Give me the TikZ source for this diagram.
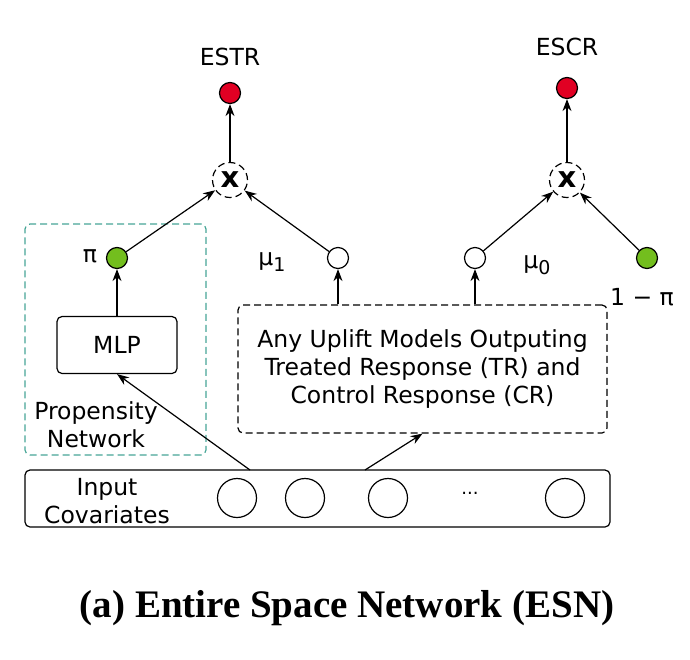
\documentclass[tikz,border=0pt]{standalone}
\usepackage{fontspec}
\newfontfamily\labelfont{DejaVu Sans}
\newfontfamily\captionfont{Liberation Serif}
\usetikzlibrary{arrows,arrows.meta,positioning}
\definecolor{estred}{RGB}{225,0,35}
\definecolor{propgreen}{RGB}{115,190,30}
\definecolor{propteal}{RGB}{70,165,150}
\newcommand{\lowsub}[1]{\raisebox{-6pt}{\fontsize{19}{19}\selectfont #1}}

\begin{document}
\begin{tikzpicture}[x=1pt,y=-1pt,line width=1.2pt,>={Stealth[length=12pt,width=9pt]},
  font=\labelfont\fontsize{23.5}{28}\selectfont,
  longdash/.style={dash pattern=on 7pt off 4pt},
  unit/.style={circle,draw,inner sep=0pt,minimum size=21pt},
  prod/.style={circle,draw,longdash,inner sep=0pt,minimum size=35pt,
    font=\labelfont\bfseries\fontsize{29}{29}\selectfont},
  feat/.style={circle,draw,inner sep=0pt,minimum size=39pt},
  box/.style={draw,rounded corners=5pt,inner sep=0pt,align=center}]
  \useasboundingbox (0,0) rectangle (690,659);
% left branch: ESTR
  \node (estrlabel) at (230,57) {ESTR};
  \node[unit,fill=estred] (estr) at (230,93) {};
  \node[prod] (xl) at (230,180) {x};
  \node[unit,fill=propgreen] (pi) at (117,258) {};
  \node (pilabel) at (90,256) {π};
  \node[unit] (mu1) at (338,258) {};
  \node (mu1label) at (272,262) {μ\lowsub{1}};
% right branch: ESCR
  \node (escrlabel) at (567,47) {ESCR};
  \node[unit,fill=estred] (escr) at (567,88) {};
  \node[prod] (xr) at (567,180) {x};
  \node[unit] (mu0) at (475,258) {};
  \node (mu0label) at (537,265) {μ\lowsub{0}};
  \node[unit,fill=propgreen] (onepi) at (647,258) {};
  \node (onepilabel) at (642,297) {1 − π};
% propensity network
  \node[box,draw=propteal,longdash,minimum width=181pt,minimum height=231pt] (prop) at (115.5,339.5) {};
  \node[box,minimum width=120pt,minimum height=57pt] (mlp) at (117,345) {MLP};
  \node[align=center] (proplabel) at (96,425) {Propensity\\Network};
% uplift models
  \node[box,longdash,minimum width=369pt,minimum height=128pt] (uplift) at (422.5,369)
    {Any Uplift Models Outputing\\Treated Response (TR) and\\Control Response (CR)};
% input covariates
  \node[box,minimum width=585pt,minimum height=57pt] (input) at (317.5,498.5) {};
  \node[align=center] (inputlabel) at (107,501) {Input\\Covariates};
  \node[feat] (f1) at (237,498) {};
  \node[feat] (f2) at (305,498) {};
  \node[feat] (f3) at (388,498) {};
  \node[font=\labelfont\fontsize{18}{20}\selectfont] (fdots) at (470,493) {...};
  \node[feat] (f4) at (565,498) {};
  \coordinate (tapmlp) at (250,470);
  \coordinate (tapup) at (365,470);
% connectors
  \draw[->] (tapmlp) -- (mlp.south);
  \draw[->] (tapup) -- (uplift.south);
  \draw[->] (mlp) -- (pi);
  \draw[->] (uplift.north -| mu1) -- (mu1);
  \draw[->] (uplift.north -| mu0) -- (mu0);
  \draw[->] (pi) -- (xl);
  \draw[->] (mu1) -- (xl);
  \draw[->] (xl) -- (estr);
  \draw[->] (mu0) -- (xr);
  \draw[->] (onepi) -- (xr);
  \draw[->] (xr) -- (escr);
% caption
  \node (caption) at (347,608) {\captionfont\bfseries\fontsize{39}{44}\selectfont (a) Entire Space Network (ESN)};
\end{tikzpicture}
\end{document}
